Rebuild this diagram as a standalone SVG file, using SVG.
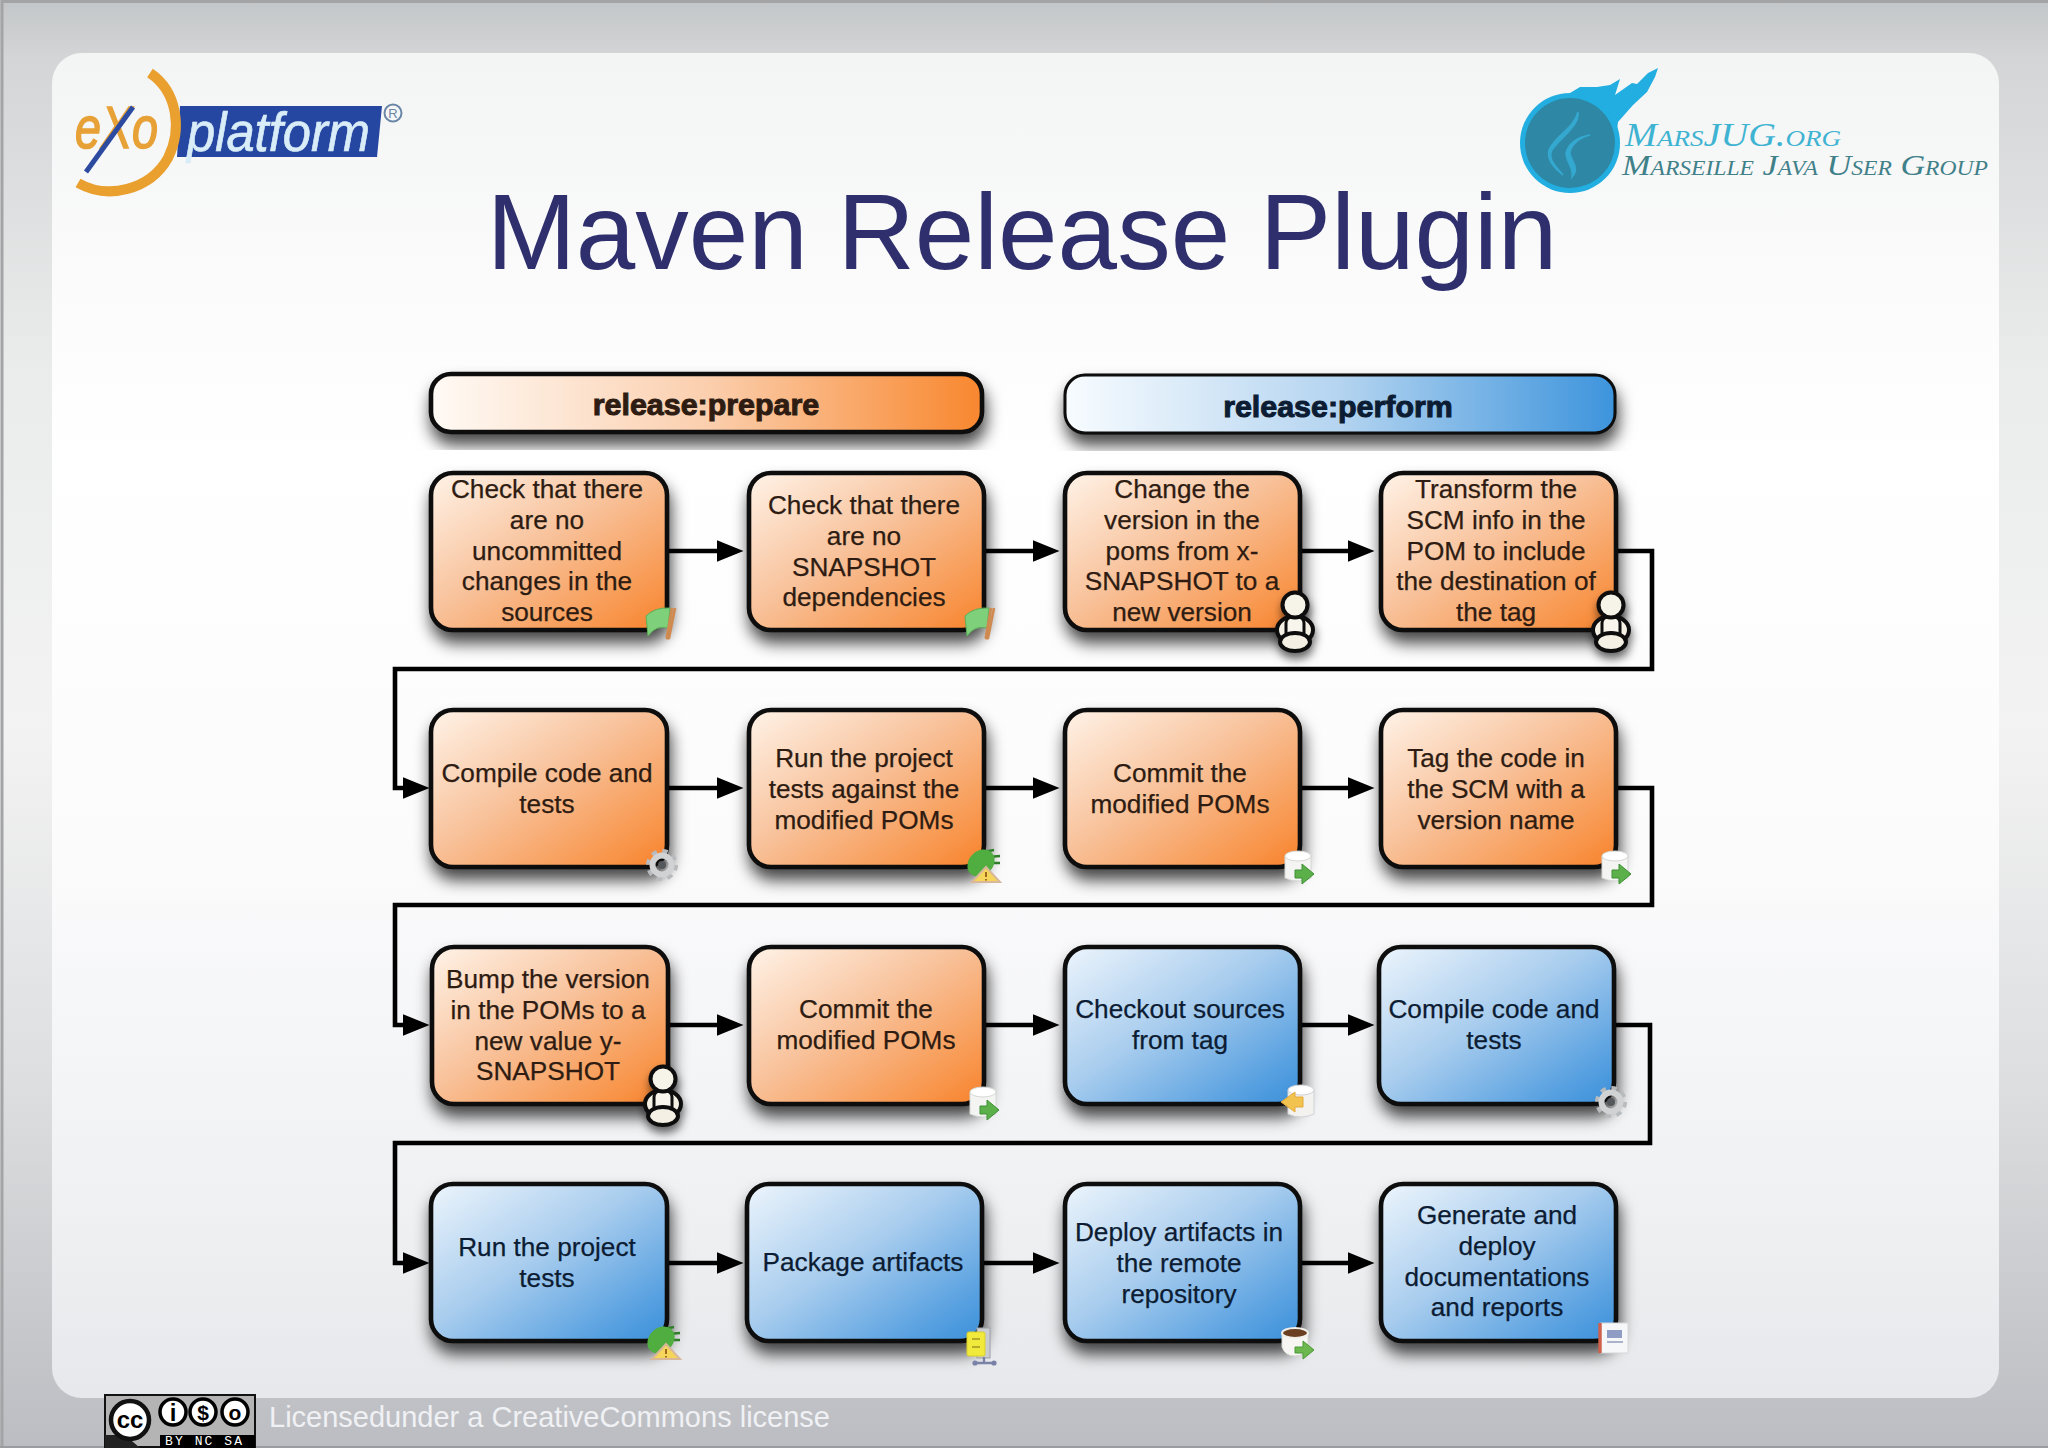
<svg xmlns="http://www.w3.org/2000/svg" width="2048" height="1448" viewBox="0 0 2048 1448">
<style>
text{font-family:"Liberation Sans",Arial,sans-serif}
.box{stroke:#0b0a0a;stroke-width:4.6;filter:url(#sh)}
.or{fill:url(#gO)}
.bl{fill:url(#gB)}
.t{font-size:26.2px;text-anchor:middle;stroke-width:.25px}
.to{fill:#2e1c12;stroke:#2e1c12}
.tb{fill:#0c1c33;stroke:#0c1c33}
.hd{font-size:30.4px;font-weight:bold;text-anchor:middle}
.cn{fill:none;stroke:#000;stroke-width:4.6;marker-end:url(#arr)}
</style>
<defs>
<linearGradient id="gOuter" x1="0" y1="0" x2="0" y2="1">
<stop offset="0" stop-color="#c3c6c8"/><stop offset=".04" stop-color="#d3d5d6"/><stop offset=".25" stop-color="#eaebeb"/><stop offset=".5" stop-color="#f3f3f3"/><stop offset=".75" stop-color="#dddee0"/><stop offset=".9" stop-color="#c9cacd"/><stop offset="1" stop-color="#bcbdc2"/>
</linearGradient>
<linearGradient id="gPanel" x1="0" y1="0" x2="0" y2="1">
<stop offset="0" stop-color="#f3f4f4"/><stop offset=".17" stop-color="#fbfbfb"/><stop offset=".3" stop-color="#fff"/><stop offset=".6" stop-color="#fbfbfc"/><stop offset=".85" stop-color="#f0f1f3"/><stop offset="1" stop-color="#e7e8eb"/>
</linearGradient>
<linearGradient id="gO" x1="0" y1="0" x2="1" y2="1">
<stop offset="0" stop-color="#fff3e8"/><stop offset=".45" stop-color="#f8c29b"/><stop offset=".85" stop-color="#f8954a"/><stop offset="1" stop-color="#f7812a"/>
</linearGradient>
<linearGradient id="gB" x1="0" y1="0" x2="1" y2="1">
<stop offset="0" stop-color="#edf5fc"/><stop offset=".45" stop-color="#a9cdee"/><stop offset=".85" stop-color="#559fe0"/><stop offset="1" stop-color="#3a8fd9"/>
</linearGradient>
<linearGradient id="gHO" x1="0" y1="0" x2="1" y2="0">
<stop offset="0" stop-color="#fffaf5"/><stop offset=".5" stop-color="#fbcfae"/><stop offset="1" stop-color="#f8872e"/>
</linearGradient>
<linearGradient id="gHB" x1="0" y1="0" x2="1" y2="0">
<stop offset="0" stop-color="#f8fcff"/><stop offset=".5" stop-color="#b4d4f0"/><stop offset="1" stop-color="#3d94dc"/>
</linearGradient>
<filter id="sh" x="-15%" y="-15%" width="130%" height="145%">
<feDropShadow dx="2" dy="11" stdDeviation="8" flood-color="#000" flood-opacity=".72"/>
</filter>
<filter id="sh2" x="-40%" y="-40%" width="180%" height="190%">
<feDropShadow dx="1" dy="6" stdDeviation="5" flood-color="#000" flood-opacity=".6"/>
</filter>
<marker id="arr" markerUnits="userSpaceOnUse" markerWidth="32" markerHeight="26" refX="0.5" refY="12" orient="auto">
<path d="M0,1 L27,12 L0,23 Z" fill="#000"/>
</marker>
<g id="iFlag">
<path d="M-15,-6 Q-6,-15 9,-14 L7,6 Q-5,3 -13,14 Z" fill="#7fd07a" stroke="#5cae58"/>
<path d="M11,-14 L6,14 Q5,17 8,16 L14,-14" fill="none" stroke="#d08a50" stroke-width="2.6"/>
</g>
<g id="iGear">
<circle r="13" fill="none" stroke="#b8bbbe" stroke-width="6" stroke-dasharray="5 5.2"/>
<circle r="9.5" fill="none" stroke="#d0d2d4" stroke-width="6"/>
<circle r="4" fill="#54585c"/>
</g>
<g id="iBug">
<path d="M-5,-12 L11,-15 M5,-8 L17,-9 M8,-2 L17,-2" stroke="#2f7f2a" stroke-width="2.4" fill="none"/>
<ellipse cx="-2" cy="-2" rx="12" ry="15" transform="rotate(45 -2 -2)" fill="#4fae3f"/>
<path d="M3,2 L-11,17 L17,17 Z" fill="#f5d65a" stroke="#d9b89a" stroke-width="2"/>
<path d="M3,7 V12 M3,14 V15.5" stroke="#a06a20" stroke-width="2"/>
</g>
<g id="iDb">
<path d="M-13,-11 V11 Q0,17 13,11 V-11 Z" fill="#f4f5f3" stroke="#d5d8d4"/>
<ellipse cy="-11" rx="13" ry="5" fill="#fff" stroke="#d5d8d4"/>
<path d="M-3,3 H4 V-3 L16,7 L4,17 V11 H-3 Z" fill="#5cb04a" stroke="#3f8f34"/>
</g>
<g id="iDbO">
<path d="M-9,-12 V12 Q4,18 17,12 V-12 Z" fill="#f3f2ee" stroke="#cfd2d6"/>
<ellipse cx="4" cy="-12" rx="13" ry="5" fill="#fff" stroke="#cfd2d6"/>
<path d="M6,-5 H-2 V-10 L-16,0 L-2,10 V5 H6 Z" fill="#f2c34e" stroke="#e4a93a"/>
</g>
<g id="iPerson" filter="url(#sh2)">
<ellipse cy="25" rx="18" ry="14" fill="#f4f1e4" stroke="#0b0a0a" stroke-width="4"/>
<rect x="-9" y="12" width="18" height="22" rx="6" fill="#f8f6ec" stroke="#0b0a0a" stroke-width="3"/>
<ellipse cy="37" rx="15" ry="9" fill="#f4f1e4" stroke="#0b0a0a" stroke-width="4"/>
<circle r="12.5" fill="#f6f3e8" stroke="#0b0a0a" stroke-width="4"/>
</g>
<g id="iPkg">
<rect x="-3" y="-15" width="13" height="30" fill="#c9ccd0" stroke="#9ea2a8"/>
<rect x="-13" y="-11" width="18" height="24" rx="2" fill="#f1e93c" stroke="#d9d12c"/>
<path d="M-8,-4 H0 M-8,4 H0" stroke="#a09820" stroke-width="1.6"/>
<path d="M-5,20 H14 M4,14 V20" stroke="#7a82a8" stroke-width="2.4"/>
<circle cx="-5" cy="20" r="2.6" fill="#7a82a8"/><circle cx="14" cy="20" r="2.6" fill="#7a82a8"/>
</g>
<g id="iCup">
<path d="M-15,-9 H11 V5 Q8,14 -2,14 Q-12,14 -15,5 Z" fill="#f7f6f2" stroke="#d8d8d4"/>
<ellipse cx="-2" cy="-9" rx="13" ry="5" fill="#6a3f22" stroke="#f0efea" stroke-width="2"/>
<path d="M-2,5 H6 V-1 L17,8 L6,17 V11 H-2 Z" fill="#6cb84e" stroke="#4a9936"/>
</g>
<g id="iNote">
<rect x="-12" y="-15" width="27" height="30" fill="#f6f7f8" stroke="#d5d7da"/>
<path d="M-13,-15 V15" stroke="#d0604a" stroke-width="3.4"/>
<rect x="-6" y="-8" width="15" height="8" fill="#8f9cc4"/>
<path d="M-6,4 H10" stroke="#aab2cc" stroke-width="2"/>
</g>
</defs>

<g id="background">
<rect x="0" y="0" width="2048" height="1448" fill="url(#gOuter)"/>
<path d="M2,1448 V1.5 H2048" fill="none" stroke="#a2a4a6" stroke-width="3"/>
<path d="M0,1447 H2048" stroke="#9b9ca0" stroke-width="2"/>
<rect x="52" y="53" width="1947" height="1345" rx="30" fill="url(#gPanel)"/>
</g>

<g id="logo-exo">
<path d="M180,106 H382 L377,157 H177 Z" fill="#2547a1"/>
<text x="187" y="151" font-size="55" font-style="italic" fill="#d9edf8" stroke="#d9edf8" stroke-width=".7" textLength="183" lengthAdjust="spacingAndGlyphs">platform</text>
<text x="75" y="148" font-size="60" font-style="italic" fill="#e7a136" stroke="#e7a136" stroke-width="1.6" textLength="83" lengthAdjust="spacingAndGlyphs">eXo</text>
<path d="M86,172 L133,107" stroke="#2b4aa0" stroke-width="5"/>
<path d="M150,73 C178,92 182,130 168,158 C150,190 108,200 78,183" fill="none" stroke="#e9a02f" stroke-width="10"/>
<circle cx="393" cy="113" r="8.5" fill="none" stroke="#6b87a8" stroke-width="2"/>
<text x="393" y="118" font-size="13" text-anchor="middle" fill="#6b87a8">R</text>
</g>

<g id="logo-marsjug">
<path d="M1570,93 L1580,87 L1597,87 L1610,85 L1620,79 L1615,95 L1632,83 L1637,84 L1648,73 L1658,68 L1655,77 L1647,92 L1633,105 L1618,122 L1617,130 L1590,130 Z" fill="#22aee0"/>
<circle cx="1570" cy="143" r="50" fill="#22aee0"/>
<circle cx="1570" cy="143" r="45" fill="#2e87a4"/>
<path d="M1578,112 C1580,126 1560,138 1552,150 C1547,160 1558,168 1563,175 C1556,170 1546,160 1549,150 C1555,136 1574,128 1578,112 Z" fill="#35a8d0" stroke="#35a8d0" stroke-width="1.5"/>
<path d="M1590,135 C1578,138 1570,146 1570,154 C1572,162 1580,168 1572,177 C1574,168 1566,162 1566,153 C1568,143 1578,137 1590,135 Z" fill="#35a8d0" stroke="#35a8d0" stroke-width="1.5"/>
<text x="1625" y="146" font-size="34" font-style="italic" font-variant="small-caps" fill="#3fb3d2" style="font-family:'Liberation Serif',serif" textLength="216" lengthAdjust="spacingAndGlyphs">MarsJUG.org</text>
<text x="1622" y="175" font-size="29" font-style="italic" font-variant="small-caps" fill="#3f8089" style="font-family:'Liberation Serif',serif" textLength="366" lengthAdjust="spacingAndGlyphs">Marseille Java User Group</text>
</g>

<text id="title" x="1022" y="269" font-size="107" text-anchor="middle" fill="#2f2f6e">Maven Release Plugin</text>

<g id="connectors">
<path class="cn" d="M668,551 H717"/>
<path class="cn" d="M985,551 H1033"/>
<path class="cn" d="M1301,551 H1348"/>
<path class="cn" d="M1617,551 H1652 V669 H395 V788 H403"/>
<path class="cn" d="M668,788 H717"/>
<path class="cn" d="M985,788 H1033"/>
<path class="cn" d="M1301,788 H1348"/>
<path class="cn" d="M1617,788 H1652 V905 H395 V1025 H403"/>
<path class="cn" d="M668,1025 H717"/>
<path class="cn" d="M985,1025 H1033"/>
<path class="cn" d="M1301,1025 H1348"/>
<path class="cn" d="M1615,1025 H1650 V1143 H395 V1263 H403"/>
<path class="cn" d="M668,1263 H717"/>
<path class="cn" d="M983,1263 H1033"/>
<path class="cn" d="M1301,1263 H1348"/>
</g>

<g id="hdr-prepare">
<rect class="box" x="431" y="374" width="551" height="58" rx="20" fill="url(#gHO)"/>
<text class="hd to" x="706" y="415">release:prepare</text>
</g>
<g id="hdr-perform">
<rect class="box" style="stroke-width:3" x="1065" y="375" width="550" height="58" rx="20" fill="url(#gHB)"/>
<text class="hd tb" x="1338" y="417">release:perform</text>
</g>

<g id="n1">
<rect class="box or" x="431" y="473" width="236" height="157" rx="22"/>
<text class="t to"><tspan x="547" y="498">Check that there</tspan><tspan x="547" y="529">are no</tspan><tspan x="547" y="560">uncommitted</tspan><tspan x="547" y="590">changes in the</tspan><tspan x="547" y="621">sources</tspan></text>
<use href="#iFlag" x="661" y="622"/>
</g>
<g id="n2">
<rect class="box or" x="749" y="473" width="235" height="157" rx="22"/>
<text class="t to"><tspan x="864" y="514">Check that there</tspan><tspan x="864" y="545">are no</tspan><tspan x="864" y="576">SNAPSHOT</tspan><tspan x="864" y="606">dependencies</tspan></text>
<use href="#iFlag" x="980" y="622"/>
</g>
<g id="n3">
<rect class="box or" x="1065" y="473" width="235" height="157" rx="22"/>
<text class="t to"><tspan x="1182" y="498">Change the</tspan><tspan x="1182" y="529">version in the</tspan><tspan x="1182" y="560">poms from x-</tspan><tspan x="1182" y="590">SNAPSHOT to a</tspan><tspan x="1182" y="621">new version</tspan></text>
<use href="#iPerson" x="1295" y="605"/>
</g>
<g id="n4">
<rect class="box or" x="1381" y="473" width="235" height="157" rx="22"/>
<text class="t to"><tspan x="1496" y="498">Transform the</tspan><tspan x="1496" y="529">SCM info in the</tspan><tspan x="1496" y="560">POM to include</tspan><tspan x="1496" y="590">the destination of</tspan><tspan x="1496" y="621">the tag</tspan></text>
<use href="#iPerson" x="1611" y="605"/>
</g>

<g id="n5">
<rect class="box or" x="431" y="710" width="236" height="157" rx="22"/>
<text class="t to"><tspan x="547" y="782">Compile code and</tspan><tspan x="547" y="813">tests</tspan></text>
<use href="#iGear" x="662" y="865"/>
</g>
<g id="n6">
<rect class="box or" x="749" y="710" width="235" height="157" rx="22"/>
<text class="t to"><tspan x="864" y="767">Run the project</tspan><tspan x="864" y="798">tests against the</tspan><tspan x="864" y="829">modified POMs</tspan></text>
<use href="#iBug" x="983" y="865"/>
</g>
<g id="n7">
<rect class="box or" x="1065" y="710" width="235" height="157" rx="22"/>
<text class="t to"><tspan x="1180" y="782">Commit the</tspan><tspan x="1180" y="813">modified POMs</tspan></text>
<use href="#iDb" x="1298" y="867"/>
</g>
<g id="n8">
<rect class="box or" x="1381" y="710" width="235" height="157" rx="22"/>
<text class="t to"><tspan x="1496" y="767">Tag the code in</tspan><tspan x="1496" y="798">the SCM with a</tspan><tspan x="1496" y="829">version name</tspan></text>
<use href="#iDb" x="1615" y="867"/>
</g>

<g id="n9">
<rect class="box or" x="432" y="947" width="236" height="157" rx="22"/>
<text class="t to"><tspan x="548" y="988">Bump the version</tspan><tspan x="548" y="1019">in the POMs to a</tspan><tspan x="548" y="1050">new value y-</tspan><tspan x="548" y="1080">SNAPSHOT</tspan></text>
<use href="#iPerson" x="663" y="1079"/>
</g>
<g id="n10">
<rect class="box or" x="749" y="947" width="235" height="157" rx="22"/>
<text class="t to"><tspan x="866" y="1018">Commit the</tspan><tspan x="866" y="1049">modified POMs</tspan></text>
<use href="#iDb" x="983" y="1103"/>
</g>
<g id="n11">
<rect class="box bl" x="1065" y="947" width="235" height="157" rx="22"/>
<text class="t tb"><tspan x="1180" y="1018">Checkout sources</tspan><tspan x="1180" y="1049">from tag</tspan></text>
<use href="#iDbO" x="1297" y="1102"/>
</g>
<g id="n12">
<rect class="box bl" x="1379" y="947" width="235" height="157" rx="22"/>
<text class="t tb"><tspan x="1494" y="1018">Compile code and</tspan><tspan x="1494" y="1049">tests</tspan></text>
<use href="#iGear" x="1611" y="1102"/>
</g>

<g id="n13">
<rect class="box bl" x="431" y="1184" width="236" height="157" rx="22"/>
<text class="t tb"><tspan x="547" y="1256">Run the project</tspan><tspan x="547" y="1287">tests</tspan></text>
<use href="#iBug" x="663" y="1342"/>
</g>
<g id="n14">
<rect class="box bl" x="747" y="1184" width="235" height="157" rx="22"/>
<text class="t tb"><tspan x="863" y="1271">Package artifacts</tspan></text>
<use href="#iPkg" x="980" y="1343"/>
</g>
<g id="n15">
<rect class="box bl" x="1065" y="1184" width="235" height="157" rx="22"/>
<text class="t tb"><tspan x="1179" y="1241">Deploy artifacts in</tspan><tspan x="1179" y="1272">the remote</tspan><tspan x="1179" y="1303">repository</tspan></text>
<use href="#iCup" x="1297" y="1342"/>
</g>
<g id="n16">
<rect class="box bl" x="1381" y="1184" width="235" height="157" rx="22"/>
<text class="t tb"><tspan x="1497" y="1224">Generate and</tspan><tspan x="1497" y="1255">deploy</tspan><tspan x="1497" y="1286">documentations</tspan><tspan x="1497" y="1316">and reports</tspan></text>
<use href="#iNote" x="1613" y="1338"/>
</g>

<g id="license">
<rect x="105" y="1395" width="150" height="52" fill="#b4b4b5" stroke="#111" stroke-width="2"/>
<rect x="160" y="1435" width="95" height="13" fill="#000"/>
<path d="M105,1435 H125 L140,1448 H105 Z" fill="#222"/>
<circle cx="130" cy="1420" r="19" fill="#fff" stroke="#111" stroke-width="4.5"/>
<text x="130" y="1428" font-size="24" font-weight="bold" text-anchor="middle" fill="#000">cc</text>
<circle cx="173" cy="1412" r="13" fill="#fff" stroke="#000" stroke-width="3.5"/>
<circle cx="203" cy="1412" r="13" fill="#fff" stroke="#000" stroke-width="3.5"/>
<circle cx="235" cy="1412" r="13" fill="#fff" stroke="#000" stroke-width="3.5"/>
<text x="173" y="1421" font-size="24" font-weight="bold" text-anchor="middle" fill="#000">i</text>
<text x="203" y="1420" font-size="21" font-weight="bold" text-anchor="middle" fill="#000">$</text>
<text x="235" y="1420" font-size="21" font-weight="bold" text-anchor="middle" fill="#000">o</text>
<text x="165" y="1445" font-size="13" fill="#fff" style="font-family:'Liberation Mono',monospace" textLength="77">BY NC SA</text>
<text x="269" y="1427" font-size="29" fill="#f0f1f4">Licensedunder a CreativeCommons license</text>
</g>
</svg>
